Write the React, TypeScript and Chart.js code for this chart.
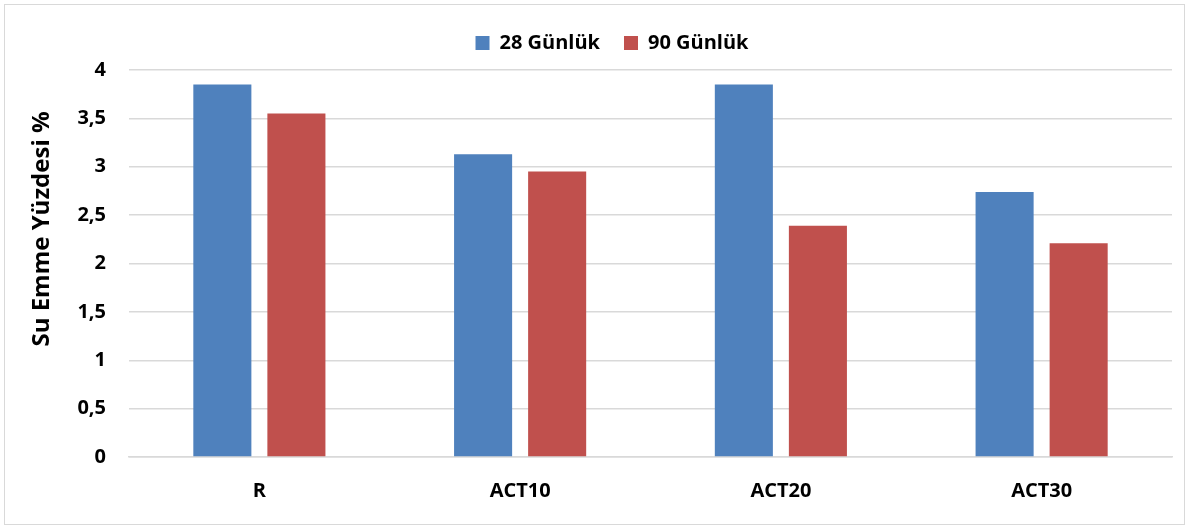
import React, { useEffect, useRef } from "react";
import { Chart, registerables } from "chart.js";

Chart.register(...registerables);

const categories = ["R", "ACT10", "ACT20", "ACT30"];
const series28 = [3.85, 3.13, 3.85, 2.74];
const series90 = [3.55, 2.95, 2.39, 2.21];
const seriesNames = ["28 Günlük", "90 Günlük"];
const yTicks = [0, 0.5, 1, 1.5, 2, 2.5, 3, 3.5, 4];
const yTitle = "Su Emme Yüzdesi %";

const FONT = "'Open Sans', Lato, sans-serif";

const LEGEND_EXTRA_BOTTOM = 7;
const LEGEND_SHIFT_X = 26;
const TITLE_X = 42;
const TITLE_Y = 229;

const legendTweak = {
  id: "legendTweak",
  beforeUpdate(chart: any) {
    const lg = chart.legend;
    if (!lg || lg.__patched) return;
    lg.__patched = true;
    const origFit = lg.fit;
    lg.fit = function (this: any) {
      origFit.call(this);
      this.height += LEGEND_EXTRA_BOTTOM;
    };
    const origDraw = lg.draw;
    lg.draw = function (this: any, ...args: any[]) {
      const ctx = this.ctx;
      ctx.save();
      ctx.translate(LEGEND_SHIFT_X, 0);
      origDraw.apply(this, args);
      ctx.restore();
    };
  },
};

const yTitlePlugin = {
  id: "yTitlePlugin",
  afterDraw(chart: any) {
    const ctx = chart.ctx;
    ctx.save();
    ctx.translate(TITLE_X, TITLE_Y);
    ctx.rotate(-Math.PI / 2);
    ctx.fillStyle = "#000";
    ctx.font = `bold 24px ${FONT}`;
    ctx.textAlign = "center";
    ctx.textBaseline = "middle";
    ctx.fillText(yTitle, 0, 0);
    ctx.restore();
  },
};

export default function App() {
  const ref = useRef<HTMLCanvasElement | null>(null);
  useEffect(() => {
    document.body.style.margin = "0";
    if (!ref.current) return;
    const chart = new Chart(ref.current, {
      type: "bar",
      data: {
        labels: categories,
        datasets: [
          {
            label: seriesNames[0],
            data: series28,
            backgroundColor: "#4F81BD",
            categoryPercentage: 0.568,
            barPercentage: 0.784,
          },
          {
            label: seriesNames[1],
            data: series90,
            backgroundColor: "#C0504D",
            categoryPercentage: 0.568,
            barPercentage: 0.784,
          },
        ],
      },
      plugins: [legendTweak, yTitlePlugin],
      options: {
        animation: false,
        responsive: false,
        maintainAspectRatio: false,
        layout: { padding: { left: 0, right: 17, top: 9, bottom: 4 } },
        plugins: {
          legend: {
            position: "top",
            labels: {
              boxWidth: 14,
              boxHeight: 14,
              padding: 24,
              color: "#000",
              font: { family: FONT, size: 20, weight: "bold" },
            },
          },
          tooltip: { enabled: false },
        },
        scales: {
          x: {
            grid: { display: false, drawTicks: false },
            border: { display: true, color: "#d9d9d9", width: 1.5 },
            ticks: {
              padding: 22,
              color: "#000",
              font: { family: FONT, size: 20, weight: "bold" },
            },
          },
          y: {
            min: 0,
            max: 4,
            afterBuildTicks: (scale: any) => {
              scale.ticks = yTicks.map((v) => ({ value: v }));
            },
            afterFit: (scale: any) => {
              scale.width = 129;
            },
            grid: { color: "#d9d9d9", lineWidth: 1.5, drawTicks: false },
            border: { display: false },
            ticks: {
              padding: 23,
              color: "#000",
              font: { family: FONT, size: 20, weight: "bold" },
              callback: (v: any) => String(v).replace(".", ","),
            },
            title: { display: false },
          },
        },
      },
    });
    return () => chart.destroy();
  }, []);
  return (
    <div style={{ position: "relative", width: 1189, height: 529, background: "#fff" }}>
      <div
        style={{
          position: "absolute",
          left: 4,
          top: 4,
          width: 1181,
          height: 521,
          border: "1px solid #d9d9d9",
          boxSizing: "border-box",
        }}
      />
      <canvas
        ref={ref}
        width={1189}
        height={529}
        style={{ position: "absolute", left: 0, top: 0, width: 1189, height: 529 }}
      />
    </div>
  );
}
